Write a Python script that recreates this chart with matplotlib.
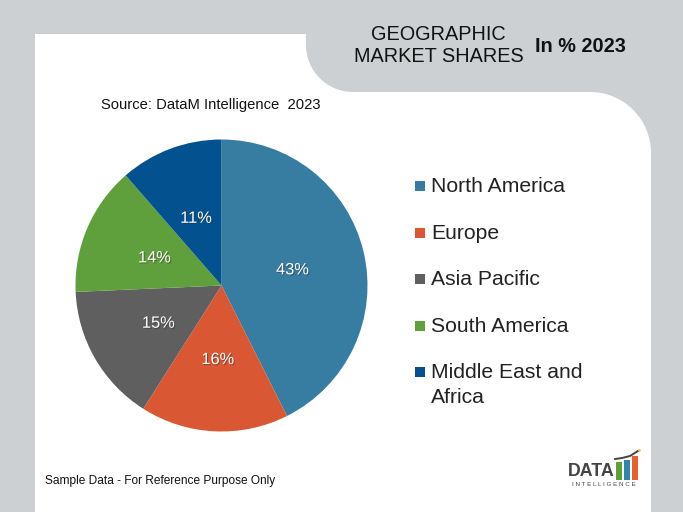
import math
import matplotlib
matplotlib.use("Agg")
import matplotlib.pyplot as plt
import matplotlib.patheffects as pe
from matplotlib.patches import PathPatch, Rectangle
from matplotlib.path import Path

plt.rcParams['font.family'] = ['Liberation Sans', 'DejaVu Sans']

categories = ["North America", "Europe", "Asia Pacific", "South America", "Middle East and\nAfrica"]
shares = [42.6, 16.4, 15.3, 14.3, 11.4]
share_labels = ["43%", "16%", "15%", "14%", "11%"]
colors = ["#377CA1", "#D95733", "#5F5F5F", "#5FA03C", "#03528F"]
legend_y = [185, 232, 278, 325, 371]
GREY = "#CDD0D3"

W, H = 683, 512
fig = plt.figure(figsize=(W / 100, H / 100), dpi=100, facecolor=GREY)
bg = fig.add_axes([0, 0, 1, 1])
bg.set_xlim(0, W)
bg.set_ylim(H, 0)
bg.axis("off")

k = 0.5523
def rounded_panel():
    r1, r2 = 47, 61
    L, T, TX, TY, R, B = 35, 34, 306, 92, 651, 512
    verts = [(L, B), (L, T), (TX, T), (TX, TY - r1),
             (TX, TY - r1 + k * r1), (TX + r1 - k * r1, TY), (TX + r1, TY),
             (R - r2, TY),
             (R - r2 + k * r2, TY), (R, TY + r2 - k * r2), (R, TY + r2),
             (R, B), (L, B)]
    codes = [Path.MOVETO, Path.LINETO, Path.LINETO, Path.LINETO,
             Path.CURVE4, Path.CURVE4, Path.CURVE4,
             Path.LINETO,
             Path.CURVE4, Path.CURVE4, Path.CURVE4,
             Path.LINETO, Path.CLOSEPOLY]
    return PathPatch(Path(verts, codes), fc="white", ec="none")
bg.add_patch(rounded_panel())

bg.text(438, 34, "GEOGRAPHIC", fontsize=14.3, ha="center", va="center", color="#111111")
bg.text(439, 57, "MARKET SHARES", fontsize=14.3, ha="center", va="center", color="#111111")
bg.text(580, 46, "In % 2023", fontsize=14.3, fontweight="bold", ha="center", va="center", color="#111111")
bg.text(211, 105, "Source: DataM Intelligence  2023", fontsize=10.6, ha="center", va="center", color="#111111")
bg.text(45, 481, "Sample Data - For Reference Purpose Only", fontsize=8.58, ha="left", va="center", color="#111111")

# legend
for name, c, y in zip(categories, colors, legend_y):
    bg.add_patch(Rectangle((415, y - 4.5), 10, 10, fc=c, ec="none"))
    bg.text(431, y - 8, name, fontsize=15.2, ha="left", va="top", color="#222222", linespacing=1.4)

# pie
cx, cy, r = 221.5, 285.5, 146
ax = fig.add_axes([(cx - r) / W, 1 - (cy + r) / H, 2 * r / W, 2 * r / H])
wedges, _ = ax.pie(shares, colors=colors, startangle=90, counterclock=False, radius=1)
ax.set_xlim(-1, 1)
ax.set_ylim(-1, 1)
acc = 0
for v, lab in zip(shares, share_labels):
    a = math.radians(90 - (acc + v / 2) * 3.6)
    acc += v
    ax.text(0.5 * math.cos(a), 0.5 * math.sin(a) - 0.008, lab, color="white", fontsize=11.8,
            ha="center", va="center",
            path_effects=[pe.SimplePatchShadow(offset=(0.8, -0.8), shadow_rgbFace="#333333", alpha=0.5),
                          pe.Normal()])

# logo
bg.text(591, 471.5, "DATA", fontsize=12.8, fontweight="bold", ha="center", va="center", color="#444444")
for x, t, c in [(616, 462, "#5FA03C"), (624, 460, "#2E86A8"), (632, 456, "#E8602C")]:
    bg.add_patch(Rectangle((x, t), 5.5, 480 - t, fc=c, ec="none"))
bg.plot([615, 622, 630, 638], [459, 458, 456, 451], color="#444444", lw=1.4)
bg.plot([639], [450], "o", ms=2, color="#F2C04A", mec="none")
bg.text(603.5, 484.5, "I N T E L L I G E N C E", fontsize=4.5, ha="center", va="center", color="#444444")

fig.savefig("out.png", dpi=100, facecolor=GREY)
